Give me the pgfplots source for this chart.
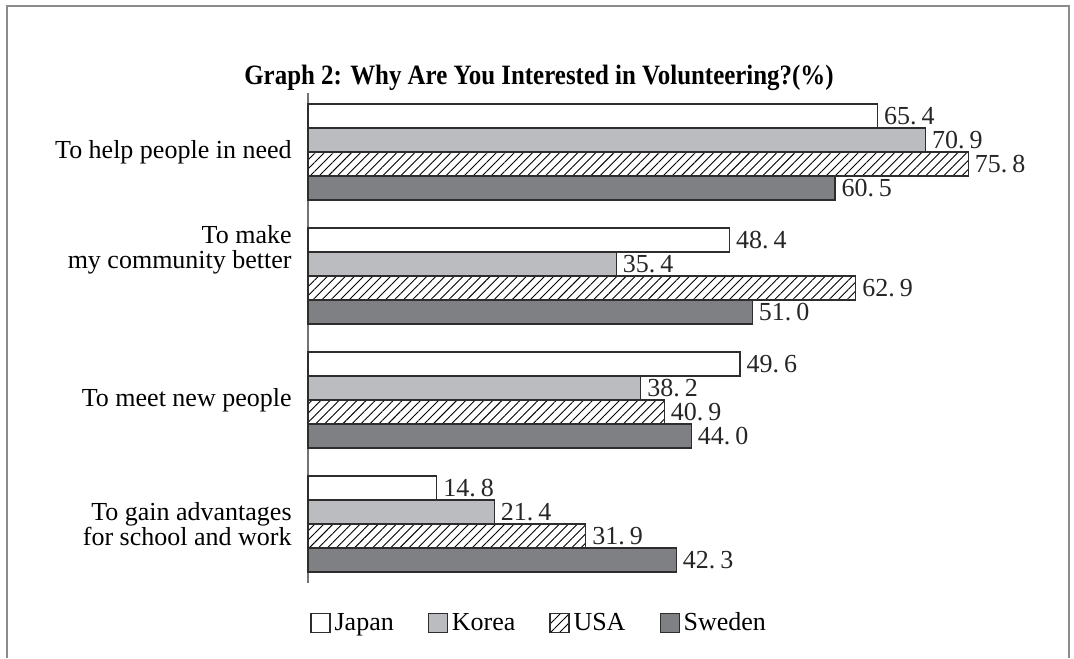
\documentclass[border=0pt]{standalone}
\usepackage{fontspec}
\setmainfont{Liberation Serif}
\newfontfamily\titlefont[FakeStretch=0.89]{Liberation Serif}
\usepackage{pgfplots}
\pgfplotsset{compat=1.18}
\usetikzlibrary{patterns.meta}
\newcommand\f{\fontsize{13}{12.6}\selectfont}
\definecolor{edge}{RGB}{45,45,45}
\definecolor{korea}{RGB}{187,188,192}
\definecolor{sweden}{RGB}{127,128,132}
\definecolor{framec}{RGB}{140,140,140}
\begin{document}
\begin{tikzpicture}[x=1pt,y=1pt]
\path[use as bounding box] (0,0) rectangle (537,329);
\draw[framec, line width=1pt] (3.5,0) -- (3.5,326) -- (534.5,326) -- (534.5,0);
\node[anchor=base, font=\titlefont\fontsize{14}{14}\selectfont\bfseries, inner sep=0pt] at (269.5,286.5) {Graph 2: Why Are You Interested in Volunteering?(\%)};
\begin{axis}[
  at={(154pt,37.5pt)}, anchor=south west,
  scale only axis, width=348.4pt, height=245pt,
  xmin=0, xmax=80, ymin=0.524, ymax=4.476,
  axis x line=none, axis y line=left,
  y axis line style={-, line width=0.6pt, draw=black!55},
  xtick=\empty,
  ytick={4,3.21,2,1},
  yticklabels={To help people in need,{To make\\my community better},To meet new people,{To gain advantages\\for school and work}},
  major tick length=0pt,
  yticklabel style={align=right, font=\f, inner sep=0pt, xshift=-8pt},
  xbar, bar width=0.1935,
  clip=false,
  point meta=x,
  nodes near coords={\pgfmathprintnumber[fixed,fixed zerofill,precision=1,assume math mode=true,dec sep={.\hspace{2.5pt}}]{\pgfplotspointmeta}},
  nodes near coords style={font=\f, anchor=west, inner sep=0pt, xshift=3pt, text=black!85},
  legend columns=4,
  legend style={draw=none, fill=none, inner sep=0pt, at={(axis description cs:0.003,-0.083)}, anchor=west, font=\f, nodes={inner xsep=2pt, inner ysep=0pt, text height=0.68em, text depth=0.22em}, /tikz/every even column/.append style={column sep=15pt}},
  every axis plot post/.append style={legend image code/.code={\draw[##1,/tikz/.cd,bar width=3pt,bar shift=0pt] (0pt,-3.5pt) rectangle (9.5pt,6pt);}},
]
\addplot[draw=edge, fill=white, line width=0.55pt, bar shift=0.2903] coordinates {(65.4,4) (48.4,3) (49.6,2) (14.8,1)};
\addplot[draw=edge, fill=korea, line width=0.55pt, bar shift=0.0968] coordinates {(70.9,4) (35.4,3) (38.2,2) (21.4,1)};
\addplot[draw=edge, pattern={Lines[angle=45,distance=3.2pt,line width=0.45pt]}, pattern color=black, line width=0.55pt, bar shift=-0.0968] coordinates {(75.8,4) (62.9,3) (40.9,2) (31.9,1)};
\addplot[draw=edge, fill=sweden, line width=0.55pt, bar shift=-0.2903] coordinates {(60.5,4) (51.0,3) (44.0,2) (42.3,1)};
\legend{Japan,Korea,USA,Sweden}
\end{axis}
\end{tikzpicture}
\end{document}
